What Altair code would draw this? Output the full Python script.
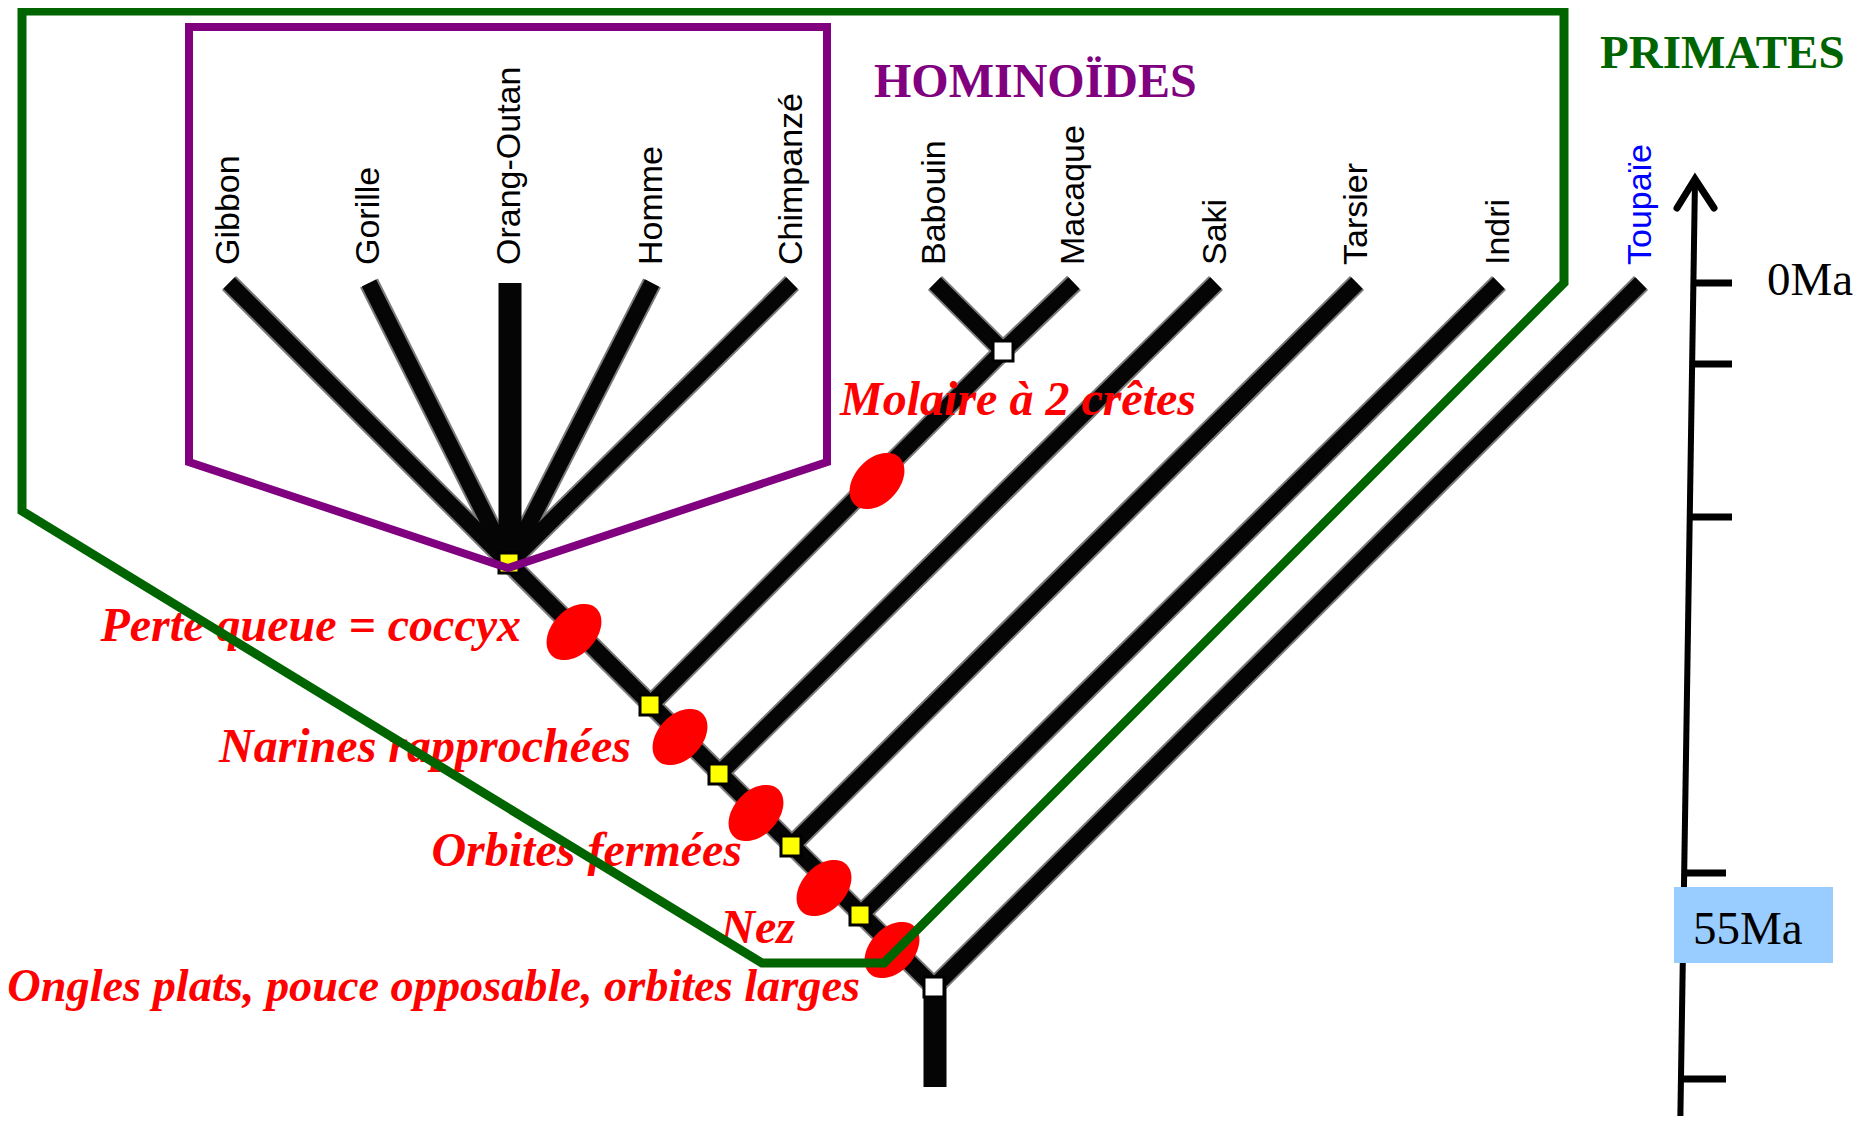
import math
import altair as alt
import pandas as pd

# ---------------- data (pixel positions of the diagram, full-size image) ----------------
taxa = ["Gibbon", "Gorille", "Orang-Outan", "Homme", "Chimpanzé", "Babouin",
        "Macaque", "Saki", "Tarsier", "Indri", "Toupaïe"]
tip_x = [229, 369, 510, 652, 792, 935, 1074, 1216, 1357, 1499, 1641]
tip_y = [283] * 11
label_y = [265] * 11
label_color = ["#000000"] * 10 + ["#0000ff"]

# diagonal branches (from x1,y1 to x2,y2)
seg_x1 = [229, 369, 652, 792, 935, 1074, 1216, 1357, 1499, 1641, 509, 650]
seg_y1 = [283, 283, 283, 283, 283, 283, 283, 283, 283, 283, 563, 705]
seg_x2 = [509, 509, 509, 509, 1003, 1003, 719, 791, 860, 934, 934, 1003]
seg_y2 = [563, 563, 563, 563, 351, 351, 774, 846, 915, 987, 987, 351]
# vertical branches (Orang-Outan, root stem)
vert_x = [510, 935]
vert_y1 = [283, 987]
vert_y2 = [563, 1087]

# nodes
node_x = [509, 650, 719, 791, 860, 1003, 934]
node_y = [563, 705, 774, 846, 915, 351, 987]
node_fill = ["#ffff00", "#ffff00", "#ffff00", "#ffff00", "#ffff00", "#ffffff", "#ffffff"]

# characters (red ellipses + labels)
char_text = ["Molaire à 2 crêtes", "Perte queue = coccyx", "Narines rapprochées",
             "Orbites fermées", "Nez", "Ongles plats, pouce opposable, orbites larges"]
char_x = [877, 574, 680, 756, 824, 892]
char_y = [481, 632, 737, 813, 888, 950]
char_text_x = [1196, 521, 631, 742, 795, 860]
char_text_y = [415, 641, 762, 866, 943, 1001]
char_text_size = [48, 48, 48, 48, 48, 46.3]

# group outlines
hom_x = [500, 827, 827, 508, 189, 189, 500]
hom_y = [27, 27, 462, 568, 462, 27, 27]
prim_x = [700, 1564, 1564, 884, 762, 22, 22, 700]
prim_y = [11, 11, 283, 963, 963, 511, 11, 11]

# time scale
axis_x = [1680]
axis_y = [1140]
axis_x2 = [1695]
axis_y2 = [180]
arrow_x = [1677, 1695, 1714]
arrow_y = [208, 179, 208]
tick_y = [283, 364, 517, 873, 1079]
tick_x1 = [1693, 1692, 1690, 1684, 1681]
tick_x2 = [1732, 1732, 1732, 1726, 1726]
time_text = ["0Ma", "55Ma"]
time_text_x = [1767, 1693]
time_text_y = [295, 944]
box_x1, box_x2, box_y1, box_y2 = [1674], [1833], [887], [963]

titles = ["HOMINOÏDES", "PRIMATES"]
title_x = [874, 1600]
title_y = [97, 68]
title_color = ["#800080", "#006400"]
title_size = [48, 47]

# ---------------- chart ----------------
W, H = 1852, 1108
X0, Y0 = 8, 8
xs = alt.Scale(domain=[X0, X0 + W], nice=False, zero=False)
ys = alt.Scale(domain=[Y0, Y0 + H], nice=False, zero=False, reverse=True)


def X(f):
    return alt.X(f, type="quantitative", scale=xs, axis=None)


def Y(f):
    return alt.Y(f, type="quantitative", scale=ys, axis=None)


def X2(f):
    return alt.X2(f)


def Y2(f):
    return alt.Y2(f)


diag = pd.DataFrame({"x": seg_x1, "y": seg_y1, "x2": seg_x2, "y2": seg_y2})
vert = pd.DataFrame({"x": vert_x, "y": vert_y1, "y2": vert_y2})

branch_gray = alt.Chart(diag).mark_rule(color="#7a7a7a", strokeWidth=20).encode(
    x=X("x"), y=Y("y"), x2=X2("x2"), y2=Y2("y2"))
branch_black = alt.Chart(diag).mark_rule(color="#050505", strokeWidth=16).encode(
    x=X("x"), y=Y("y"), x2=X2("x2"), y2=Y2("y2"))
branch_vert = alt.Chart(vert).mark_rule(color="#050505", strokeWidth=23).encode(
    x=X("x"), y=Y("y"), y2=Y2("y2"))

nodes = pd.DataFrame({"x": node_x, "y": node_y, "fill": node_fill})
node_marks = alt.Chart(nodes).mark_point(
    shape="square", filled=True, size=400, stroke="#000000", strokeWidth=3, opacity=1
).encode(x=X("x"), y=Y("y"), fill=alt.Fill("fill:N", scale=None))

n = 60
ell_path = "M" + " L".join(
    f"{math.cos(2 * math.pi * i / n):.4f},{0.68 * math.sin(2 * math.pi * i / n):.4f}"
    for i in range(n)) + " Z"
chars = pd.DataFrame({"x": char_x, "y": char_y, "t": char_text,
                      "tx": char_text_x, "ty": char_text_y, "s": char_text_size})
ellipses = alt.Chart(chars).mark_point(
    shape=ell_path, filled=True, size=4225, angle=313, color="#ff0000",
    opacity=1, strokeWidth=0
).encode(x=X("x"), y=Y("y"))
char_labels = alt.Chart(chars).mark_text(
    font="Liberation Serif", fontStyle="italic", fontWeight="bold",
    color="#ff0000", align="right", baseline="alphabetic"
).encode(x=X("tx"), y=Y("ty"), text="t:N", size=alt.Size("s:Q", scale=None))

leaves = pd.DataFrame({"x": tip_x, "y": label_y, "t": taxa, "c": label_color})
leaf_labels = alt.Chart(leaves).mark_text(
    font="Liberation Sans", fontSize=34, angle=270, align="left", baseline="middle"
).encode(x=X("x"), y=Y("y"), text="t:N", color=alt.Color("c:N", scale=None))

hom = pd.DataFrame({"x": hom_x, "y": hom_y, "o": list(range(len(hom_x)))})
hom_line = alt.Chart(hom).mark_line(color="#800080", strokeWidth=8, strokeJoin="miter").encode(
    x=X("x"), y=Y("y"), order="o:Q")
prim = pd.DataFrame({"x": prim_x, "y": prim_y, "o": list(range(len(prim_x)))})
prim_line = alt.Chart(prim).mark_line(color="#006400", strokeWidth=9, strokeJoin="miter").encode(
    x=X("x"), y=Y("y"), order="o:Q")

axis_df = pd.DataFrame({"x": axis_x, "y": axis_y, "x2": axis_x2, "y2": axis_y2})
axis_line = alt.Chart(axis_df).mark_rule(color="#000000", strokeWidth=6).encode(
    x=X("x"), y=Y("y"), x2=X2("x2"), y2=Y2("y2"))
arrow_df = pd.DataFrame({"x": arrow_x, "y": arrow_y, "o": [0, 1, 2]})
arrow = alt.Chart(arrow_df).mark_line(color="#000000", strokeWidth=7, strokeCap="round",
                                      strokeJoin="miter").encode(
    x=X("x"), y=Y("y"), order="o:Q")
ticks_df = pd.DataFrame({"x": tick_x1, "x2": tick_x2, "y": tick_y})
ticks = alt.Chart(ticks_df).mark_rule(color="#000000", strokeWidth=7).encode(
    x=X("x"), x2=X2("x2"), y=Y("y"))
box_df = pd.DataFrame({"x": box_x1, "x2": box_x2, "y": box_y1, "y2": box_y2})
box = alt.Chart(box_df).mark_rect(color="#99ccff", opacity=1).encode(
    x=X("x"), x2=X2("x2"), y=Y("y"), y2=Y2("y2"))
time_df = pd.DataFrame({"x": time_text_x, "y": time_text_y, "t": time_text})
time_labels = alt.Chart(time_df).mark_text(
    font="Liberation Serif", fontSize=47, color="#000000", align="left", baseline="alphabetic"
).encode(x=X("x"), y=Y("y"), text="t:N")

title_df = pd.DataFrame({"x": title_x, "y": title_y, "t": titles, "c": title_color, "s": title_size})
title_labels = alt.Chart(title_df).mark_text(
    font="Liberation Serif", fontWeight="bold", align="left", baseline="alphabetic"
).encode(x=X("x"), y=Y("y"), text="t:N", color=alt.Color("c:N", scale=None),
         size=alt.Size("s:Q", scale=None))

chart = alt.layer(
    branch_gray, branch_black, branch_vert, node_marks, ellipses, char_labels,
    leaf_labels, hom_line, prim_line, axis_line, arrow, ticks, box, time_labels,
    title_labels
).properties(
    width=W, height=H, padding=0, background="#ffffff",
    autosize=alt.AutoSizeParams(type="none")
).configure_view(stroke=None)

chart.save("out.html", embed_options={"renderer": "svg", "actions": False})
